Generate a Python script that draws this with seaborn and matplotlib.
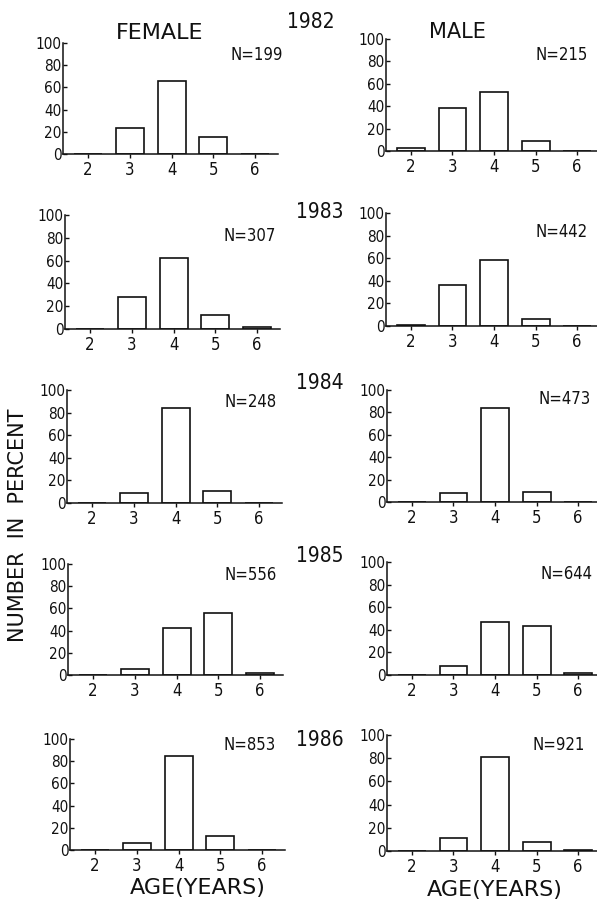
import matplotlib
matplotlib.use("Agg")
import matplotlib.pyplot as plt
import seaborn as sns
import pandas as pd

sns.set_theme(style="white")
plt.rcParams["font.family"] = ["DejaVu Sans"]
plt.rcParams["font.stretch"] = "condensed"

# Age-class composition (% of sample) by year and sex
ages = [2, 3, 4, 5, 6]
years = [1982, 1983, 1984, 1985, 1986]

female_1982 = [0, 23, 66, 15, 0]
female_1983 = [0, 28, 62, 12, 1.5]
female_1984 = [0, 9, 84, 11, 0]
female_1985 = [0, 5, 42, 56, 2]
female_1986 = [0, 6, 85, 13, 0]

male_1982 = [3, 38, 53, 9, 0]
male_1983 = [1, 36, 58, 6, 0]
male_1984 = [0, 8, 84, 9, 0]
male_1985 = [0, 8, 47, 43, 2]
male_1986 = [0, 11, 81, 8, 1]

female_n = [199, 307, 248, 556, 853]
male_n = [215, 442, 473, 644, 921]

female_rows = [female_1982, female_1983, female_1984, female_1985, female_1986]
male_rows = [male_1982, male_1983, male_1984, male_1985, male_1986]

W, H = 597, 902
fig = plt.figure(figsize=(W / 100, H / 100), dpi=100)

# panel boxes in pixels: (left, top-of-100, right, zero line)
female_boxes = [(63, 43, 278, 154), (65, 215, 280, 329), (67, 390, 282, 503),
                (68, 564, 283, 675), (70, 739, 285, 850)]
male_boxes = [(386, 39, 600, 151), (386, 213, 600, 326), (387, 390, 601, 502),
              (387, 562, 601, 675), (387, 735, 601, 851)]
female_label_pos = [(0.90, 0.89), (0.86, 0.82), (0.855, 0.89), (0.85, 0.90), (0.835, 0.95)]
male_label_pos = [(0.82, 0.86), (0.82, 0.83), (0.83, 0.92), (0.84, 0.89), (0.80, 0.91)]
year_pos = [(311, 22), (320, 212), (320, 383), (320, 556), (320, 740)]

ink = "#111111"


def make_axes(box):
    l, t, r, b = box
    return fig.add_axes([l / W, 1 - b / H, (r - l) / W, (b - t) / H])


def draw_panel(ax, values, n, pos):
    df = pd.DataFrame({"age": [str(a) for a in ages], "pct": values})
    sns.barplot(data=df, x="age", y="pct", ax=ax, color="white",
                edgecolor=ink, linewidth=1.2, width=0.67, saturation=1)
    ax.set_ylim(0, 100)
    ax.set_xlim(-0.6, 4.55)
    ax.set_yticks([0, 20, 40, 60, 80, 100])
    ax.set_xlabel("")
    ax.set_ylabel("")
    for s in ("top", "right"):
        ax.spines[s].set_visible(False)
    for s in ("left", "bottom"):
        ax.spines[s].set_color(ink)
        ax.spines[s].set_linewidth(1.1)
    ax.tick_params(axis="y", direction="in", length=3, width=1, pad=1,
                   labelsize=11, colors=ink, left=True)
    ax.tick_params(axis="x", direction="out", length=3, width=1, pad=2,
                   labelsize=12, colors=ink, bottom=True)
    ax.patch.set_alpha(0)
    ax.text(pos[0], pos[1], f"N={n}", transform=ax.transAxes, ha="center",
            va="center", fontsize=12, color=ink)


for i in range(len(years)):
    axf = make_axes(female_boxes[i])
    draw_panel(axf, female_rows[i], female_n[i], female_label_pos[i])
    axm = make_axes(male_boxes[i])
    draw_panel(axm, male_rows[i], male_n[i], male_label_pos[i])
    x, y = year_pos[i]
    fig.text(x / W, 1 - y / H, str(years[i]), ha="center", va="center",
             fontsize=15, color=ink)

wide = dict(fontstretch="normal", color=ink, ha="center", va="center")
fig.text(160 / W, 1 - 33 / H, "FEMALE", fontsize=16, **wide)
fig.text(457 / W, 1 - 32 / H, "MALE", fontsize=15, **wide)
fig.text(18 / W, 1 - 525 / H, "NUMBER  IN  PERCENT", rotation=90,
         fontsize=15, **wide)
fig.text(198 / W, 1 - 888 / H, "AGE(YEARS)", fontsize=16, **wide)
fig.text(495 / W, 1 - 890 / H, "AGE(YEARS)", fontsize=16, **wide)

fig.savefig("out.png", dpi=100)
